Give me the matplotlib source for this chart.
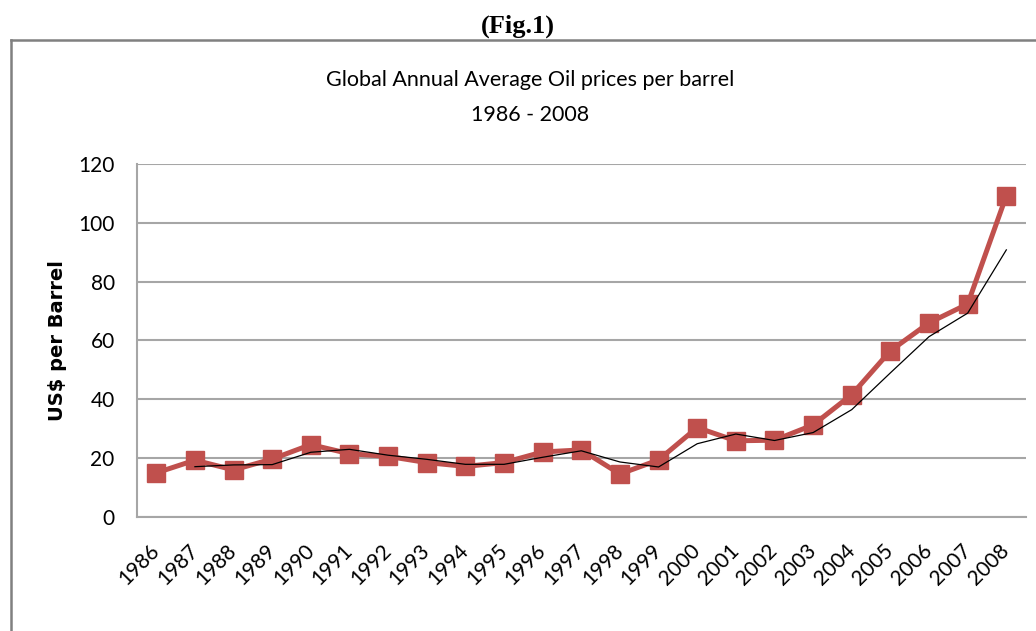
import matplotlib.pyplot as plt
from matplotlib.lines import Line2D

# Datos
years = [str(y) for y in range(1986, 2009)]
prices = [15.0, 19.3, 16.0, 19.7, 24.6, 21.5, 20.6, 18.5, 17.2, 18.5, 22.1, 22.8,
          14.6, 19.4, 30.4, 25.9, 26.1, 31.3, 41.6, 56.5, 66.0, 72.4, 109.2]
# linea de tendencia (media movil de 2 periodos), empieza en 1987
trend_years = years[1:]
trend = [17.1, 17.7, 17.8, 22.0, 23.0, 21.0, 19.6, 17.9, 17.9, 20.3, 22.5,
         18.7, 17.0, 24.9, 28.2, 26.0, 28.7, 36.5, 49.0, 61.3, 69.3, 90.8]

RED = "#C0504D"
GRID = "#A6A6A6"

plt.rcParams['font.family'] = ['Lato', 'DejaVu Sans']

fig = plt.figure(figsize=(10.36, 6.31), dpi=100)
ax = fig.add_axes([0.1322, 0.1807, 0.8578, 0.5594])

x = list(range(len(years)))
ax.plot(x, prices, color=RED, lw=3.6, marker='s', markersize=13.5,
        markerfacecolor=RED, markeredgecolor=RED, zorder=3)
ax.plot(x[1:], trend, color='black', lw=0.9, zorder=4)

ax.set_xlim(-0.5, len(years) - 0.5)
ax.set_ylim(0, 120)
ax.set_yticks(range(0, 121, 20))
ax.set_xticks(x)
ax.set_xticklabels(years, rotation=45, ha='right', va='center',
                   rotation_mode='anchor', fontsize=15)
ax.tick_params(axis='x', length=0, pad=22)
ax.tick_params(axis='y', length=0, pad=16, labelsize=15)
ax.grid(axis='y', color=GRID, lw=1.5)
ax.set_axisbelow(True)
for s in ['top', 'right']:
    ax.spines[s].set_visible(False)
for s in ['left', 'bottom']:
    ax.spines[s].set_color(GRID)
    ax.spines[s].set_linewidth(1.5)

ax.set_ylabel('US$ per Barrel', fontsize=14, fontweight='bold', labelpad=8,
              family='DejaVu Sans')

# Titulos
fig.text(0.512, 0.873, 'Global Annual Average Oil prices per barrel',
         ha='center', va='center', fontsize=15.5)
fig.text(0.512, 0.818, '1986 - 2008', ha='center', va='center', fontsize=15.5)
fig.text(0.5, 0.958, '(Fig.1)', ha='center', va='center', fontsize=19,
         fontweight='bold', family='Liberation Serif')

# Marco exterior
x0 = 11 / 1036
y0 = 1 - 40 / 631
fig.add_artist(Line2D([x0, 1.0], [y0, y0], color='#808080', lw=1.8,
                      transform=fig.transFigure))
fig.add_artist(Line2D([x0, x0], [0, y0], color='#808080', lw=1.8,
                      transform=fig.transFigure))

fig.savefig('out.png', dpi=100)
